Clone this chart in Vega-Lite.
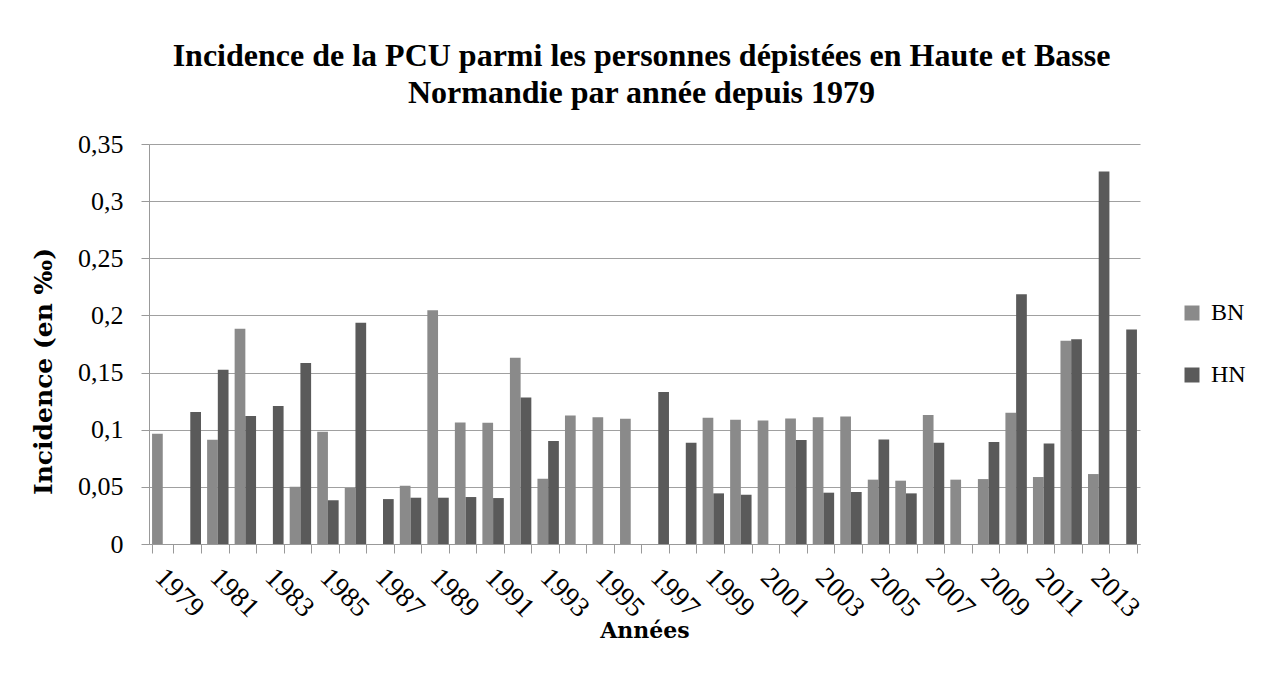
{
  "$schema": "https://vega.github.io/schema/vega-lite/v6.json",
  "autosize": "none",
  "width": 991,
  "height": 400,
  "padding": {"left": 149, "top": 144, "right": 140, "bottom": 134},
  "background": "white",
  "title": {
    "text": ["Incidence de la PCU parmi les personnes dépistées en Haute et Basse", "Normandie par année depuis 1979"],
    "font": "Liberation Serif",
    "fontSize": 32,
    "fontWeight": "bold",
    "lineHeight": 37,
    "color": "black",
    "anchor": "middle",
    "frame": "group",
    "offset": 21,
    "dx": -3
  },
  "config": {
    "view": {"stroke": null}
  },
  "data": {
    "values": [
      {"year": "1979", "region": "BN", "value": 0.0965},
      {"year": "1980", "region": "HN", "value": 0.1154},
      {"year": "1981", "region": "BN", "value": 0.0912},
      {"year": "1981", "region": "HN", "value": 0.1524},
      {"year": "1982", "region": "BN", "value": 0.1883},
      {"year": "1982", "region": "HN", "value": 0.1119},
      {"year": "1983", "region": "HN", "value": 0.1207},
      {"year": "1984", "region": "BN", "value": 0.0501},
      {"year": "1984", "region": "HN", "value": 0.1583},
      {"year": "1985", "region": "BN", "value": 0.0982},
      {"year": "1985", "region": "HN", "value": 0.0382},
      {"year": "1986", "region": "BN", "value": 0.049},
      {"year": "1986", "region": "HN", "value": 0.1935},
      {"year": "1987", "region": "HN", "value": 0.0393},
      {"year": "1988", "region": "BN", "value": 0.051},
      {"year": "1988", "region": "HN", "value": 0.0405},
      {"year": "1989", "region": "BN", "value": 0.2046},
      {"year": "1989", "region": "HN", "value": 0.0405},
      {"year": "1990", "region": "BN", "value": 0.1064},
      {"year": "1990", "region": "HN", "value": 0.0411},
      {"year": "1991", "region": "BN", "value": 0.1061},
      {"year": "1991", "region": "HN", "value": 0.0402},
      {"year": "1992", "region": "BN", "value": 0.1629},
      {"year": "1992", "region": "HN", "value": 0.1282},
      {"year": "1993", "region": "BN", "value": 0.0571},
      {"year": "1993", "region": "HN", "value": 0.0901},
      {"year": "1994", "region": "BN", "value": 0.1125},
      {"year": "1995", "region": "BN", "value": 0.111},
      {"year": "1996", "region": "BN", "value": 0.1096},
      {"year": "1997", "region": "HN", "value": 0.1329},
      {"year": "1998", "region": "HN", "value": 0.0886},
      {"year": "1999", "region": "BN", "value": 0.1105},
      {"year": "1999", "region": "HN", "value": 0.0443},
      {"year": "2000", "region": "BN", "value": 0.1087},
      {"year": "2000", "region": "HN", "value": 0.0431},
      {"year": "2001", "region": "BN", "value": 0.1081},
      {"year": "2002", "region": "BN", "value": 0.1099},
      {"year": "2002", "region": "HN", "value": 0.0909},
      {"year": "2003", "region": "BN", "value": 0.111},
      {"year": "2003", "region": "HN", "value": 0.0449},
      {"year": "2004", "region": "BN", "value": 0.1116},
      {"year": "2004", "region": "HN", "value": 0.0455},
      {"year": "2005", "region": "BN", "value": 0.0563},
      {"year": "2005", "region": "HN", "value": 0.0915},
      {"year": "2006", "region": "BN", "value": 0.0554},
      {"year": "2006", "region": "HN", "value": 0.0443},
      {"year": "2007", "region": "BN", "value": 0.1128},
      {"year": "2007", "region": "HN", "value": 0.0886},
      {"year": "2008", "region": "BN", "value": 0.0563},
      {"year": "2009", "region": "BN", "value": 0.0568},
      {"year": "2009", "region": "HN", "value": 0.0892},
      {"year": "2010", "region": "BN", "value": 0.1148},
      {"year": "2010", "region": "HN", "value": 0.2186},
      {"year": "2011", "region": "BN", "value": 0.0586},
      {"year": "2011", "region": "HN", "value": 0.088},
      {"year": "2012", "region": "BN", "value": 0.1778},
      {"year": "2012", "region": "HN", "value": 0.1792},
      {"year": "2013", "region": "BN", "value": 0.0612},
      {"year": "2013", "region": "HN", "value": 0.3259},
      {"year": "2014", "region": "HN", "value": 0.1877}
    ]
  },
  "mark": {"type": "bar"},
  "encoding": {
    "x": {
      "field": "year",
      "type": "nominal",
      "sort": null,
      "scale": {
        "domain": ["1979","1980","1981","1982","1983","1984","1985","1986","1987","1988","1989","1990","1991","1992","1993","1994","1995","1996","1997","1998","1999","2000","2001","2002","2003","2004","2005","2006","2007","2008","2009","2010","2011","2012","2013","2014"],
        "paddingInner": 0.222,
        "paddingOuter": 0.111
      },
      "axis": {
        "title": "Années",
        "titleFont": "DejaVu Serif",
        "titleFontSize": 22,
        "titleFontWeight": "bold",
        "titleColor": "black",
        "titleBaseline": "middle",
        "titleY": 86,
        "labelExpr": "(toNumber(datum.value) - 1979) % 2 == 0 ? datum.value : ''",
        "labelAngle": 45,
        "labelAlign": "left",
        "labelBaseline": "top",
        "labelFont": "Liberation Serif",
        "labelFontSize": 28,
        "labelColor": "black",
        "labelPadding": 10,
        "labelOffset": 6,
        "labelOverlap": false,
        "tickBand": "extent",
        "tickSize": 9,
        "tickColor": "#999999",
        "domainColor": "#999999",
        "grid": false
      }
    },
    "xOffset": {
      "field": "region",
      "type": "nominal",
      "scale": {"domain": ["BN", "HN"], "paddingInner": 0, "paddingOuter": 0}
    },
    "y": {
      "field": "value",
      "type": "quantitative",
      "scale": {"domain": [0, 0.35], "nice": false, "zero": true},
      "axis": {
        "title": "Incidence (en ‰)",
        "titleFont": "DejaVu Serif",
        "titleFontSize": 25,
        "titleFontWeight": "bold",
        "titleColor": "black",
        "titleAngle": -90,
        "titleAlign": "center",
        "titleBaseline": "middle",
        "titleX": -106,
        "titleY": 227,
        "values": [0, 0.05, 0.1, 0.15, 0.2, 0.25, 0.3, 0.35],
        "format": ".2~f",
        "labelExpr": "replace(datum.label, '.', ',')",
        "labelFont": "Liberation Serif",
        "labelFontSize": 26,
        "labelColor": "black",
        "labelPadding": 18,
        "tickSize": 8,
        "tickColor": "#999999",
        "domainColor": "#999999",
        "grid": true,
        "gridColor": "#a0a0a0",
        "gridWidth": 1
      }
    },
    "color": {
      "field": "region",
      "type": "nominal",
      "scale": {"domain": ["BN", "HN"], "range": ["#8a8a8a", "#5a5a5a"]},
      "legend": {
        "title": null,
        "orient": "none",
        "legendX": 1031,
        "legendY": 157,
        "symbolType": "square",
        "symbolSize": 225,
        "symbolStrokeWidth": 0,
        "labelFont": "Liberation Serif",
        "labelFontSize": 24,
        "labelColor": "black",
        "labelOffset": 7,
        "rowPadding": 38
      }
    }
  }
}
